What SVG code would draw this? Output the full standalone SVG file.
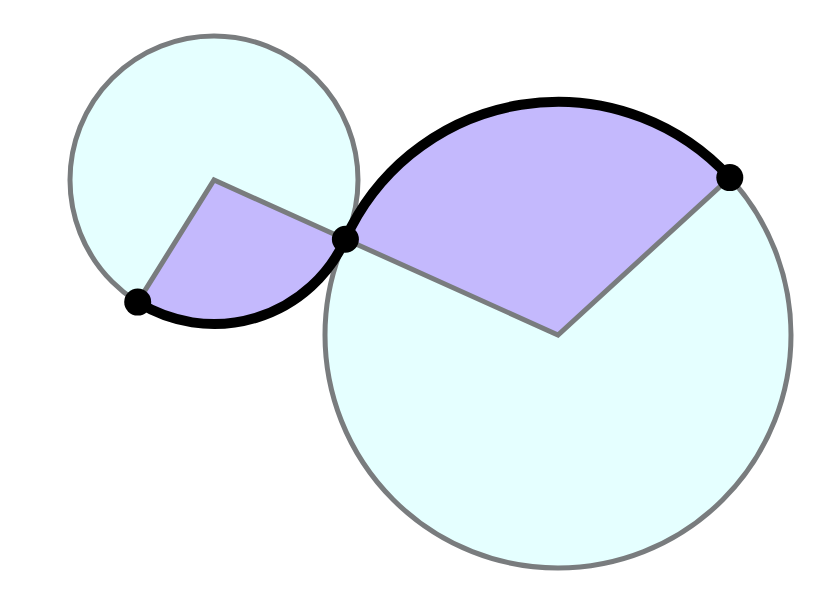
<svg xmlns="http://www.w3.org/2000/svg" width="840" height="600" viewBox="0 0 840 600">
<style>
.circ{fill:#e5ffff;stroke:#797c7e;stroke-width:5}
.sector{fill:#c4b9fd;stroke:none}
.radius{fill:none;stroke:#797c7e;stroke-width:5;stroke-linejoin:miter}
.arc{fill:none;stroke:#000;stroke-width:10;stroke-linecap:round}
.dot{fill:#000}
</style>
<rect width="840" height="600" fill="#fff"/>
<g id="circle-small"><circle class="circ" cx="214" cy="180" r="144"/></g>
<g id="circle-big"><circle class="circ" cx="558" cy="335" r="233"/></g>
<g id="sector-small">
<path class="sector" d="M214 180 L137.7 302.1 A144 144 0 0 0 345.4 239.2 Z"/>
<polyline class="radius" points="137.7,302.1 214,180 345.4,239.2"/>
</g>
<g id="sector-big">
<path class="sector" d="M558 335 L345.4 239.2 A233 233 0 0 1 729.8 177.6 Z"/>
<polyline class="radius" points="345.4,239.2 558,335 729.8,177.6"/>
</g>
<g id="connectors">
<path class="arc" d="M137.7 302.1 A144 144 0 0 0 345.4 239.2"/>
<path class="arc" d="M345.4 239.2 A233 233 0 0 1 729.8 177.6"/>
</g>
<g id="points">
<circle class="dot" cx="137.7" cy="302.1" r="13.5"/>
<circle class="dot" cx="345.4" cy="239.2" r="13.5"/>
<circle class="dot" cx="729.8" cy="177.6" r="13.5"/>
</g>
</svg>
